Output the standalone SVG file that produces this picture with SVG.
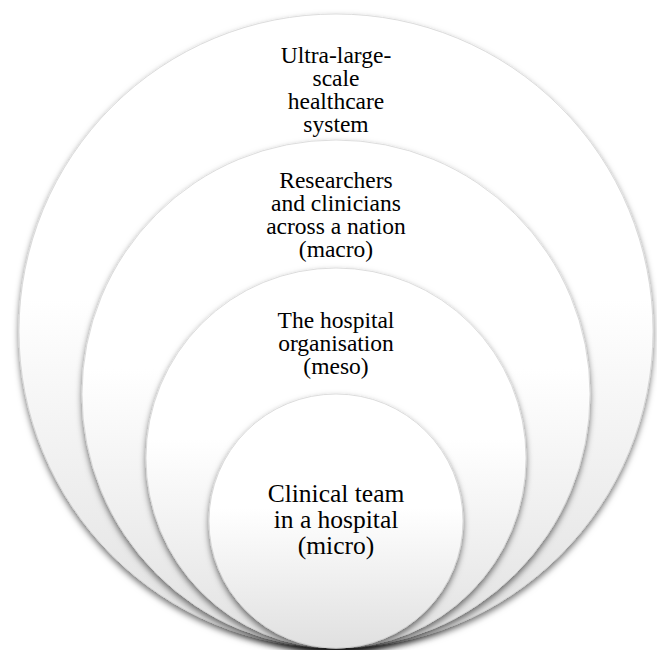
<svg xmlns="http://www.w3.org/2000/svg" width="657" height="650" viewBox="0 0 657 650">
<style>
.ring{fill:url(#g);stroke:#d6d6d6;stroke-width:0.8;filter:url(#sh)}
.t{font-family:"Liberation Serif","Times New Roman",serif;font-size:23.5px;fill:#000;text-anchor:middle}
.t2{font-size:25.5px}
</style>
<defs>
<linearGradient id="g" x1="0" y1="0" x2="0" y2="1">
<stop offset="0" stop-color="#ffffff"/>
<stop offset="0.45" stop-color="#ffffff"/>
<stop offset="1" stop-color="#e0e0e0"/>
</linearGradient>
<filter id="sh" x="-10%" y="-10%" width="120%" height="120%">
<feDropShadow dx="0" dy="3.5" stdDeviation="3" flood-color="#000" flood-opacity="0.55"/>
</filter>
</defs>
<rect width="657" height="650" fill="#fff"/>
<g id="ultra">
<circle class="ring" cx="336" cy="331" r="317"/>
<text class="t"><tspan x="336" y="63">Ultra-large-</tspan><tspan x="336" y="86">scale</tspan><tspan x="336" y="109">healthcare</tspan><tspan x="336" y="132">system</tspan></text>
</g>
<g id="macro">
<circle class="ring" cx="336" cy="394" r="254"/>
<text class="t"><tspan x="336" y="188">Researchers</tspan><tspan x="336" y="211">and clinicians</tspan><tspan x="336" y="234">across a nation</tspan><tspan x="336" y="257">(macro)</tspan></text>
</g>
<g id="meso">
<circle class="ring" cx="336" cy="458" r="190"/>
<text class="t"><tspan x="336" y="328">The hospital</tspan><tspan x="336" y="351">organisation</tspan><tspan x="336" y="374">(meso)</tspan></text>
</g>
<g id="micro">
<circle class="ring" cx="336" cy="521" r="127"/>
<text class="t t2"><tspan x="336" y="502">Clinical team</tspan><tspan x="336" y="528">in a hospital</tspan><tspan x="336" y="554">(micro)</tspan></text>
</g>
</svg>
